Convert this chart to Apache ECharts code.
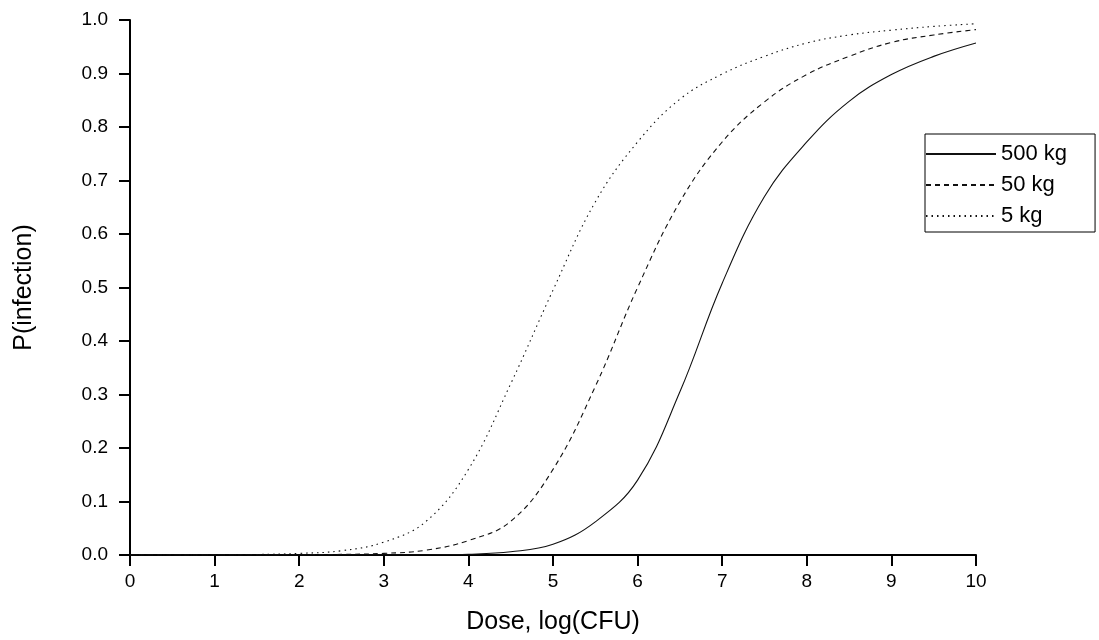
<!DOCTYPE html>
<html>
<head>
<meta charset="utf-8">
<script src="https://cdn.jsdelivr.net/npm/echarts@6/dist/echarts.min.js"></script>
<style>
html,body{margin:0;padding:0;background:#fff;}
#chart{width:1099px;height:640px;}
</style>
</head>
<body>
<div id="chart"></div>
<script>
// Dose, log(CFU)
const doses = [0,0.5,1,1.5,2,2.5,3,3.5,4,4.5,5,5.5,6,6.5,7,7.5,8,8.5,9,9.5,10];
// P(infection) per body weight
const p500kg = [0,0,0,0,0,0,0.0002,0.0005,0.0015,0.006,0.02,0.062,0.14,0.305,0.508,0.67,0.772,0.848,0.898,0.932,0.957];
const p50kg  = [0,0,0,0.0002,0.0005,0.0012,0.003,0.009,0.027,0.063,0.16,0.315,0.50,0.66,0.772,0.847,0.898,0.932,0.958,0.972,0.982];
const p5kg   = [0,0,0.0003,0.001,0.003,0.008,0.024,0.063,0.16,0.32,0.495,0.66,0.772,0.852,0.899,0.932,0.957,0.972,0.981,0.988,0.993];
const seriesNames = ['500 kg','50 kg','5 kg'];
const xTicks = [0,1,2,3,4,5,6,7,8,9,10];
const yTicks = [0,0.1,0.2,0.3,0.4,0.5,0.6,0.7,0.8,0.9,1.0];

const FONT = '"Liberation Sans", Arial, sans-serif';
const pair = arr => doses.map((d,i)=>[d, arr[i]]);
const dashTypes = ['solid',[5,4],[1.5,4]];
const values = [p500kg,p50kg,p5kg];

const chart = echarts.init(document.getElementById('chart'));
chart.setOption({
  animation:false,
  backgroundColor:'#fff',
  grid:{left:130,right:123,top:20,bottom:85},
  xAxis:{
    type:'value', min:xTicks[0], max:xTicks[xTicks.length-1], interval:1,
    name:'Dose, log(CFU)', nameLocation:'middle', nameGap:55,
    nameTextStyle:{fontSize:25,color:'#000',fontFamily:FONT},
    axisLine:{show:true,onZero:false,lineStyle:{color:'#000',width:2}},
    axisTick:{show:true,length:11,lineStyle:{color:'#000',width:2}},
    axisLabel:{margin:17,fontSize:19,color:'#000',fontFamily:FONT},
    splitLine:{show:false}
  },
  yAxis:{
    type:'value', min:yTicks[0], max:yTicks[yTicks.length-1], interval:0.1,
    name:'P(infection)', nameLocation:'middle', nameGap:93,
    nameTextStyle:{fontSize:25,color:'#000',fontFamily:FONT},
    axisLine:{show:true,onZero:false,lineStyle:{color:'#000',width:2}},
    axisTick:{show:true,length:11,lineStyle:{color:'#000',width:2}},
    axisLabel:{margin:22,fontSize:19,color:'#000',fontFamily:FONT,formatter:v=>v.toFixed(1)},
    splitLine:{show:false}
  },
  legend:{
    orient:'vertical', left:925, top:134,
    itemWidth:70, itemHeight:14, itemGap:9,
    padding:[9,28,5,0],
    borderColor:'#000', borderWidth:1,
    itemStyle:{color:'transparent',borderColor:'transparent',borderWidth:0,opacity:0},
    textStyle:{fontSize:22,color:'#000',fontFamily:FONT},
    data:seriesNames
  },
  series: seriesNames.map((n,k)=>({
    name:n, type:'line', data:pair(values[k]),
    symbol:'none', smooth:0.4,
    lineStyle:{color:'#111',width:1.1,type:dashTypes[k]},
    itemStyle:{color:'#111'}
  }))
});
</script>
</body>
</html>
